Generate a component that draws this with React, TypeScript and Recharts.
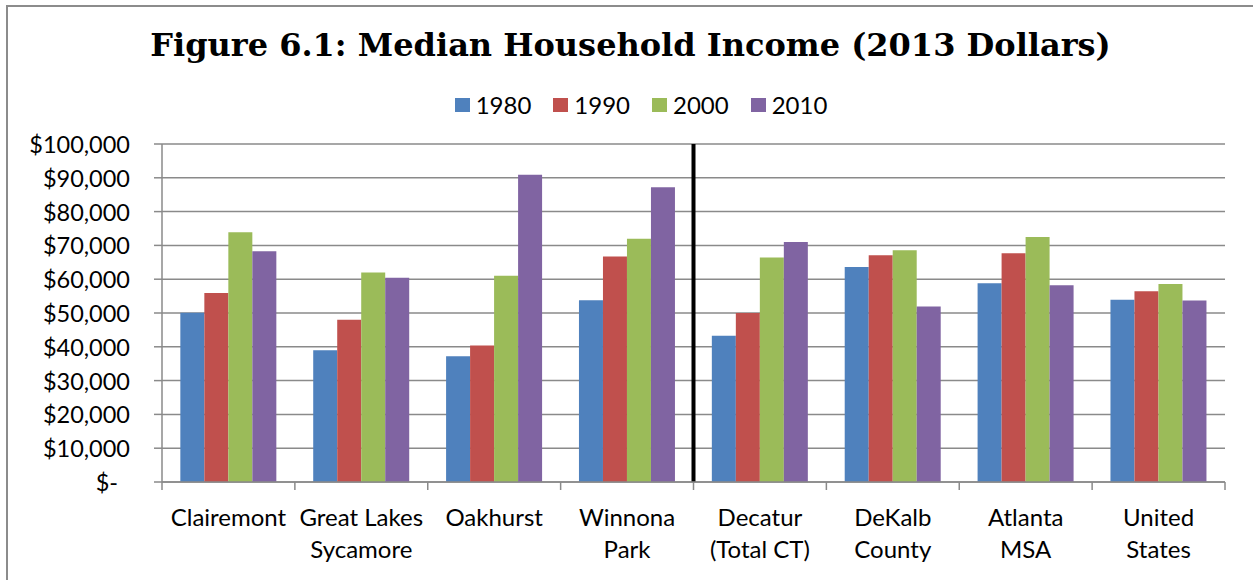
import React from "react";
import {
  Bar,
  BarChart,
  CartesianGrid,
  Legend,
  ReferenceLine,
  XAxis,
  YAxis,
} from "recharts";

const categories = [
  "Clairemont",
  "Great Lakes\nSycamore",
  "Oakhurst",
  "Winnona\nPark",
  "Decatur\n(Total CT)",
  "DeKalb\nCounty",
  "Atlanta\nMSA",
  "United\nStates",
];
const income1980 = [50100, 39000, 37200, 53800, 43300, 63600, 58800, 53900];
const income1990 = [55900, 48000, 40400, 66700, 50000, 67100, 67700, 56400];
const income2000 = [73900, 62000, 61000, 72000, 66400, 68600, 72500, 58600];
const income2010 = [68300, 60400, 90900, 87200, 71000, 51900, 58200, 53700];
const years = ["1980", "1990", "2000", "2010"];
const colors = ["#4F81BD", "#C0504D", "#9BBB59", "#8064A2"];
const yTicks = [0, 10000, 20000, 30000, 40000, 50000, 60000, 70000, 80000, 90000, 100000];

const data = categories.map((name, i) => ({
  name,
  "1980": income1980[i],
  "1990": income1990[i],
  "2000": income2000[i],
  "2010": income2010[i],
}));

const FONT = "Lato, 'Open Sans', sans-serif";
const FS = 24;
const GRID = "#8a8a8a";

function YTick(props: any) {
  const { x, y, payload } = props;
  const v = payload.value as number;
  const label = v === 0 ? "$-" : "$" + v.toLocaleString("en-US");
  return (
    <text
      x={v === 0 ? x - 12 : x}
      y={y}
      textAnchor="end"
      dominantBaseline="central"
      fontFamily={FONT}
      fontSize={23.5}
      fill="#000"
    >
      {label}
    </text>
  );
}

// category label plus Excel-style tick marks on the category boundaries
function XTick(props: any) {
  const { x, y, payload, index, visibleTicksCount } = props;
  const lines = String(payload.value).split("\n");
  const half = payload.offset || 66.4;
  const last = index === visibleTicksCount - 1;
  return (
    <g>
      <line x1={x - half} x2={x - half} y1={y} y2={y + 8} stroke={GRID} strokeWidth={1.5} />
      {last && (
        <line x1={x + half} x2={x + half} y1={y} y2={y + 8} stroke={GRID} strokeWidth={1.5} />
      )}
      {lines.map((line, i) => (
        <text
          key={i}
          x={x}
          y={y + 34 + i * 32}
          textAnchor="middle"
          dominantBaseline="central"
          fontFamily={FONT}
          fontSize={FS}
          fill="#000"
        >
          {line}
        </text>
      ))}
    </g>
  );
}

function LegendBox() {
  return (
    <div
      style={{
        display: "flex",
        justifyContent: "center",
        paddingLeft: 21,
        fontFamily: FONT,
        fontSize: FS,
        lineHeight: "26px",
      }}
    >
      {years.map((yr, i) => (
        <div
          key={yr}
          style={{ display: "flex", alignItems: "center", marginRight: i < 3 ? 22 : 0 }}
        >
          <span
            style={{ width: 15, height: 14, background: colors[i], marginRight: 6, display: "inline-block" }}
          />
          <span>{yr}</span>
        </div>
      ))}
    </div>
  );
}

export default function App() {
  return (
    <div style={{ position: "relative", width: 1253, height: 580, overflow: "hidden" }}>
      <style>{"body{margin:0;overflow:hidden}"}</style>
      {/* chart frame: left and top edges, the others run off the page */}
      <svg width={1253} height={580} style={{ position: "absolute", left: 0, top: 0 }}>
        <line x1={7} y1={5} x2={7} y2={580} stroke="#8c8c8c" strokeWidth={2} />
        <line x1={6} y1={6} x2={1253} y2={6} stroke="#8c8c8c" strokeWidth={2} />
      </svg>
      <div
        style={{
          position: "absolute",
          left: 8,
          top: 27,
          width: 1245,
          textAlign: "center",
          fontFamily: "'DejaVu Serif', serif",
          fontWeight: "bold",
          fontSize: 32,
          lineHeight: "37px",
          color: "#000",
          whiteSpace: "nowrap",
        }}
      >
        Figure 6.1: Median Household Income (2013 Dollars)
      </div>
      <div style={{ position: "absolute", left: 8, top: 8 }}>
        <BarChart
          width={1245}
          height={572}
          data={data}
          margin={{ top: 136, right: 28, bottom: 18, left: 0 }}
          barCategoryGap="13.8%"
          barGap={0}
        >
          <CartesianGrid vertical={false} stroke={GRID} strokeWidth={1.5} />
          <XAxis
            dataKey="name"
            height={80}
            stroke={GRID}
            strokeWidth={1.5}
            tickLine={false}
            tickSize={0}
            tickMargin={0}
            interval={0}
            tick={<XTick />}
          />
          <YAxis
            width={154}
            domain={[0, 100000]}
            ticks={yTicks}
            stroke={GRID}
            strokeWidth={1.5}
            tickSize={8}
            tickMargin={24}
            tick={<YTick />}
          />
          <Legend
            verticalAlign="middle"
            align="center"
            wrapperStyle={{ top: 84, left: 0, width: 1245 }}
            content={<LegendBox />}
          />
          {years.map((yr, i) => (
            <Bar key={yr} dataKey={yr} fill={colors[i]} isAnimationActive={false} />
          ))}
          <ReferenceLine x={categories[4]} position="start" stroke="#000" strokeWidth={4} />
        </BarChart>
      </div>
    </div>
  );
}
